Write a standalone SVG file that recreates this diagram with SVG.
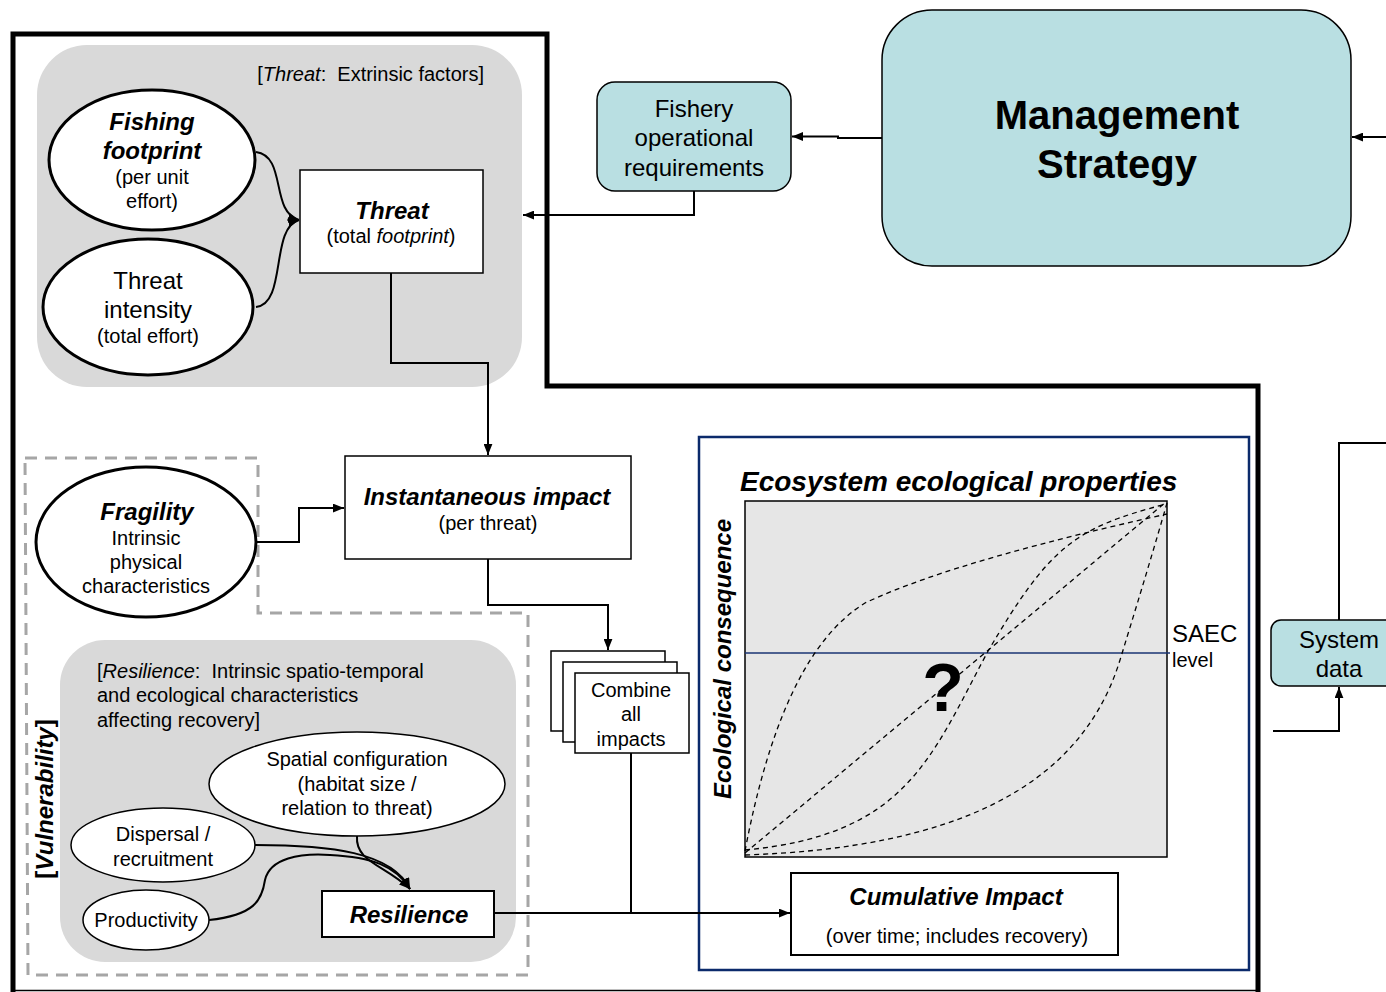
<svg xmlns="http://www.w3.org/2000/svg" width="1386" height="992" viewBox="0 0 1386 992">
<defs>
<marker id="ah" viewBox="0 0 10 8" refX="10" refY="4" markerWidth="11" markerHeight="9" markerUnits="userSpaceOnUse" orient="auto"><path d="M0,0 L10,4 L0,8 z" fill="#000"/></marker>
<style>
text{font-family:"Liberation Sans",Arial,sans-serif;fill:#000;text-anchor:middle}
.b{font-weight:bold}
.i{font-style:italic}
.bi{font-weight:bold;font-style:italic}
.s20{font-size:20px}
.s24{font-size:24px}
.l{text-anchor:start}
.conn{fill:none;stroke:#000;stroke-width:2}
.arr{marker-end:url(#ah)}
.teal{fill:#b9dfe2;stroke:#000;stroke-width:1.5}
.grayreg{fill:#d9d9d9;stroke:none}
.box{fill:#fff;stroke:#000;stroke-width:1.5}
.thick{fill:#fff;stroke:#000;stroke-width:3}
.thin{fill:#fff;stroke:#000;stroke-width:1.5}
.dash{fill:none;stroke:#000;stroke-width:1.3;stroke-dasharray:5 4}
</style>
</defs>
<rect width="1386" height="992" fill="#fff"/>

<!-- background regions -->
<g id="outer-frame">
<path d="M13,992 V34 H547 V386 H1258 V992" fill="none" stroke="#000" stroke-width="5"/>
<line x1="13" y1="990.5" x2="1258" y2="990.5" stroke="#000" stroke-width="1.5"/>
</g>
<g id="threat-region">
<rect x="37" y="45" width="485" height="342" rx="50" class="grayreg"/>
<text x="484" y="81" class="s20" style="text-anchor:end">[<tspan class="i">Threat</tspan>:&#160; Extrinsic factors]</text>
</g>
<g id="vulnerability-region">
<path d="M25,458 H258 V613 H528 V975 H28 Z" fill="none" stroke="#a6a6a6" stroke-width="3" stroke-dasharray="12 8"/>
<text transform="translate(53,799) rotate(-90)" class="s24 b">[<tspan class="i">Vulnerability</tspan>]</text>
</g>
<g id="resilience-region">
<rect x="60" y="640" width="456" height="322" rx="45" class="grayreg"/>
<text x="97" y="678" class="s20 l">[<tspan class="i">Resilience</tspan>:&#160; Intrinsic spatio-temporal</text>
<text x="97" y="702" class="s20 l">and ecological characteristics</text>
<text x="97" y="727" class="s20 l">affecting recovery]</text>
</g>
<g id="ecosystem-panel">
<rect x="699" y="437" width="550" height="533" fill="#fff" stroke="#0b2a6b" stroke-width="2.5"/>
<text x="740" y="491" class="bi l" style="font-size:28px">Ecosystem ecological properties</text>
<rect x="745" y="501" width="422" height="356" fill="#e6e6e6" stroke="#000" stroke-width="1.5"/>
<line x1="745" y1="653" x2="1170" y2="653" stroke="#1a3473" stroke-width="1.5"/>
<path class="dash" d="M745,851 C768,730 805,640 865,603 C935,570 1050,540 1167,514"/>
<path class="dash" d="M745,853 L1166,502"/>
<path class="dash" d="M745,850 C905,835 930,760 987,653 C1050,545 1075,528 1166,504"/>
<path class="dash" d="M745,855 C950,848 1080,790 1120,660 C1140,595 1155,545 1167,503"/>
<text x="943" y="711" class="b" style="font-size:68px">?</text>
<text transform="translate(731,659) rotate(-90)" class="s24 bi">Ecological consequence</text>
<text x="1172" y="642" class="s24 l">SAEC</text>
<text x="1172" y="667" class="s20 l">level</text>
</g>

<!-- connectors -->
<g id="connectors">
<path class="conn arr" d="M256,152 C287,156 270,212 299,220"/>
<path class="conn arr" d="M256,307 C287,304 270,228 299,220"/>
<path class="conn arr" d="M391,273 V363 H488 V455"/>
<path class="conn arr" d="M694,191 V215 H523"/>
<path class="conn arr" d="M882,138 H838 V136.5 H792"/>
<path class="conn arr" d="M1386,137 H1352"/>
<path class="conn arr" d="M256,542 H299 V508 H344"/>
<path class="conn arr" d="M488,559 V605 H608 V650"/>
<path class="conn" d="M631,753 V913"/>
<path class="conn arr" d="M494,913 H790"/>
<path class="conn arr" d="M357,836 C355,862 385,865 410,889"/>
<path class="conn arr" d="M255,845 C330,845 392,852 410,889"/>
<path class="conn arr" d="M209,920 C255,915 262,900 265,880 C270,858 300,853 330,855 C372,857 396,866 410,889"/>
<path class="conn" d="M1339,620 V443 H1386"/>
<path class="conn arr" d="M1273,731 H1339 V687"/>
</g>

<!-- nodes -->
<g id="fishing-footprint">
<ellipse cx="152" cy="160" rx="103" ry="70" class="thick"/>
<text x="152" y="130" class="s24 bi">Fishing</text>
<text x="152" y="159" class="s24 bi">footprint</text>
<text x="152" y="184" class="s20">(per unit</text>
<text x="152" y="208" class="s20">effort)</text>
</g>
<g id="threat-intensity">
<ellipse cx="148" cy="307" rx="105" ry="68" class="thick"/>
<text x="148" y="289" class="s24">Threat</text>
<text x="148" y="318" class="s24">intensity</text>
<text x="148" y="343" class="s20">(total effort)</text>
</g>
<g id="threat">
<rect x="300" y="170" width="183" height="103" class="box"/>
<text x="392" y="219" class="s24 bi">Threat</text>
<text x="391" y="243" class="s20">(total <tspan class="i">footprint</tspan>)</text>
</g>
<g id="fishery-requirements">
<rect x="597" y="82" width="194" height="109" rx="18" class="teal"/>
<text x="694" y="117" class="s24">Fishery</text>
<text x="694" y="146" class="s24">operational</text>
<text x="694" y="176" class="s24">requirements</text>
</g>
<g id="management-strategy">
<rect x="882" y="10" width="469" height="256" rx="50" class="teal"/>
<text x="1117" y="129" class="b" style="font-size:40px">Management</text>
<text x="1117" y="178" class="b" style="font-size:40px">Strategy</text>
</g>
<g id="system-data">
<rect x="1271" y="620" width="130" height="66" rx="10" class="teal"/>
<text x="1339" y="648" class="s24">System</text>
<text x="1339" y="677" class="s24">data</text>
</g>
<g id="fragility">
<ellipse cx="146" cy="542" rx="110" ry="75" class="thick"/>
<text x="147" y="520" class="s24 bi">Fragility</text>
<text x="146" y="545" class="s20">Intrinsic</text>
<text x="146" y="569" class="s20">physical</text>
<text x="146" y="593" class="s20">characteristics</text>
</g>
<g id="instantaneous-impact">
<rect x="345" y="456" width="286" height="103" class="box"/>
<text x="487" y="505" class="s24 bi">Instantaneous impact</text>
<text x="488" y="530" class="s20">(per threat)</text>
</g>
<g id="combine-impacts">
<rect x="551" y="651" width="114" height="80" class="box"/>
<rect x="563" y="662" width="114" height="80" class="box"/>
<rect x="575" y="673" width="114" height="80" class="box"/>
<text x="631" y="697" class="s20">Combine</text>
<text x="631" y="721" class="s20">all</text>
<text x="631" y="746" class="s20">impacts</text>
</g>
<g id="spatial-configuration">
<ellipse cx="357" cy="784" rx="148" ry="52" class="thin"/>
<text x="357" y="766" class="s20">Spatial configuration</text>
<text x="357" y="791" class="s20">(habitat size /</text>
<text x="357" y="815" class="s20">relation to threat)</text>
</g>
<g id="dispersal">
<ellipse cx="163" cy="845" rx="92" ry="37" class="thin"/>
<text x="163" y="841" class="s20">Dispersal /</text>
<text x="163" y="866" class="s20">recruitment</text>
</g>
<g id="productivity">
<ellipse cx="146" cy="920" rx="63" ry="30" class="thin"/>
<text x="146" y="927" class="s20">Productivity</text>
</g>
<g id="resilience">
<rect x="322" y="891" width="172" height="46" fill="#fff" stroke="#000" stroke-width="2"/>
<text x="409" y="923" class="s24 bi">Resilience</text>
</g>
<g id="cumulative-impact">
<rect x="791" y="873" width="327" height="82" fill="#fff" stroke="#000" stroke-width="2"/>
<text x="956" y="905" class="s24 bi">Cumulative Impact</text>
<text x="957" y="943" class="s20">(over time; includes recovery)</text>
</g>
</svg>
